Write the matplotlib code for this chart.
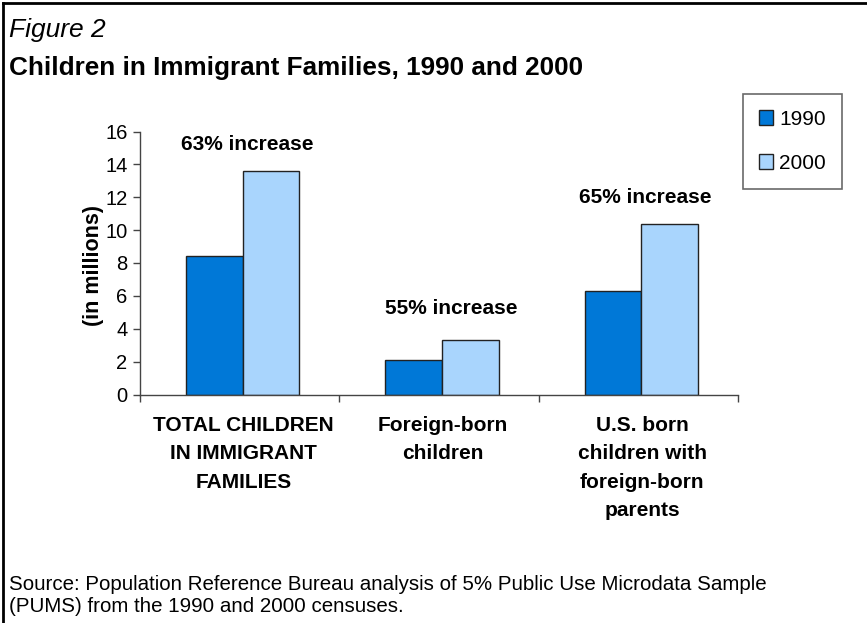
import matplotlib
matplotlib.use("Agg")
import matplotlib.pyplot as plt
from matplotlib.lines import Line2D
from matplotlib.patches import Patch

plt.rcParams['font.family'] = ['Liberation Sans', 'DejaVu Sans']

categories = ["TOTAL CHILDREN\nIN IMMIGRANT\nFAMILIES", "Foreign-born\nchildren",
              "U.S. born\nchildren with\nforeign-born\nparents"]
series_names = ["1990", "2000"]
values_1990 = [8.4, 2.1, 6.3]
values_2000 = [13.6, 3.3, 10.35]
increase_labels = ["63% increase", "55% increase", "65% increase"]
yticks = [0, 2, 4, 6, 8, 10, 12, 14, 16]
source_lines = ["Source: Population Reference Bureau analysis of 5% Public Use Microdata Sample",
                "(PUMS) from the 1990 and 2000 censuses."]

c1990 = "#0078D7"
c2000 = "#A9D5FD"

W, H = 867, 623
fig = plt.figure(figsize=(W / 100, H / 100), dpi=100)

def fx(px):
    return px / W

def fy(py):
    return 1 - py / H

# figure border (left and top)
fig.add_artist(Line2D([fx(3), fx(3)], [fy(3), 0], color="black", lw=2, transform=fig.transFigure))
fig.add_artist(Line2D([fx(3), 1], [fy(3), fy(3)], color="black", lw=2, transform=fig.transFigure))

fig.text(fx(9), fy(37), "Figure 2", fontsize=19, style="italic", ha="left", va="baseline")
fig.text(fx(9), fy(75), "Children in Immigrant Families, 1990 and 2000", fontsize=18.8,
         fontweight="bold", ha="left", va="baseline")

ax = fig.add_axes([fx(140), fy(394.5), fx(738) - fx(140), fy(131.5) - fy(394.5)])
x = list(range(len(categories)))
bw = 0.285
off = 0.015
ax.bar([i - bw / 2 + off for i in x], values_1990, width=bw, color=c1990, edgecolor="#222222", linewidth=1, label=series_names[0])
ax.bar([i + bw / 2 + off for i in x], values_2000, width=bw, color=c2000, edgecolor="#222222", linewidth=1, label=series_names[1])

ax.set_xlim(-0.5, 2.5)
ax.set_ylim(0, 16)
ax.set_yticks(yticks)
ax.set_yticklabels([str(t) for t in yticks], fontsize=14.5)
ax.tick_params(axis="y", direction="out", length=5, width=1, color="#444444", pad=4)
ax.set_xticks([-0.5, 0.5, 1.5, 2.5])
ax.set_xticklabels([])
ax.tick_params(axis="x", direction="out", length=5, width=1, color="#444444")
for s in ["top", "right"]:
    ax.spines[s].set_visible(False)
for s in ["left", "bottom"]:
    ax.spines[s].set_color("#444444")
    ax.spines[s].set_linewidth(1)

for i, lab in enumerate(categories):
    ax.text(i + 0.02, -1.32, lab, ha="center", va="top", fontsize=15, fontweight="bold", linespacing=1.62)

ann_y = [15.2, 5.25, 12.0]
ann_dx = [0.04, 0.06, 0.035]
for i, lab in enumerate(increase_labels):
    ax.text(i + ann_dx[i], ann_y[i], lab, ha="center", va="center", fontsize=15, fontweight="bold")

ax.set_ylabel("(in millions)", fontsize=15.5, fontweight="bold")
ax.yaxis.set_label_coords(-0.06, 0.49)

handles = [Patch(facecolor=c1990, edgecolor="#222222", label=series_names[0]),
           Patch(facecolor=c2000, edgecolor="#222222", label=series_names[1])]
leg = fig.legend(handles=handles, loc="upper left", bbox_to_anchor=(fx(743), fy(94)),
                 fontsize=15, frameon=True, fancybox=False, edgecolor="#444444",
                 handlelength=0.7, handleheight=0.7, handletextpad=0.3, labelspacing=1.22,
                 borderpad=0.75, borderaxespad=0)
leg.get_frame().set_linewidth(1.2)

fig.text(fx(9), fy(590), source_lines[0], fontsize=14.8, ha="left", va="baseline")
fig.text(fx(9), fy(612), source_lines[1], fontsize=14.8, ha="left", va="baseline")

fig.savefig("out.png", dpi=100)
